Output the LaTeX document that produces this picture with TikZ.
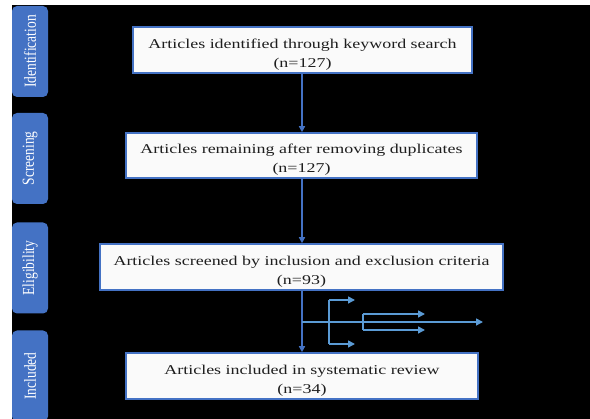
\documentclass[tikz,border=0pt]{standalone}
\usepackage{fontspec}
\setmainfont{Liberation Serif}
\newfontfamily\boxfont[FakeStretch=1.33]{Liberation Serif}
\usetikzlibrary{arrows.meta}
\definecolor{tabblue}{HTML}{4472C4}
\definecolor{lineblue}{HTML}{4472C4}
\definecolor{branchblue}{HTML}{5B9BD5}
\definecolor{boxfill}{HTML}{FAFAFA}
\definecolor{txt}{HTML}{1E1E1E}
\newcommand{\tabword}[1]{\scalebox{1}[1.25]{#1}}
\newcommand{\topstrut}{\rule{0pt}{18.5pt}}
\tikzset{
  tab/.style={draw=none, fill=tabblue, rounded corners=5pt, minimum width=36pt, minimum height=91pt, inner sep=0pt},
  tabtext/.style={text=white, font=\fontsize{13.5}{15}\selectfont, rotate=90, inner sep=0pt},
  stagebox/.style={draw=lineblue, line width=1.6pt, fill=boxfill, text=txt, inner sep=0pt,
    font=\boxfont\fontsize{13.5}{19}\selectfont, align=center},
  mainarrow/.style={draw=lineblue, line width=1.8pt, -{Triangle[length=6pt,width=6pt]}},
  branch/.style={draw=branchblue, line width=1.6pt},
  brancharrow/.style={draw=branchblue, line width=1.6pt, -{Triangle[length=7pt,width=7pt]}}
}
\begin{document}
\begin{tikzpicture}[x=1pt,y=-1pt]
\useasboundingbox (0,0) rectangle (590,419);
\clip (0,0) rectangle (590,419);
\fill[white] (0,0) rectangle (590,419);
\fill[black] (12,5) rectangle (590,425);

% stage tabs
\node[tab] (t1) at (30,51.5) {};
\node[tabtext] (l1) at (t1) {\tabword{Identification}};
\node[tab] (t2) at (30,158.5) {};
\node[tabtext] (l2) at (t2) {\tabword{Screening}};
\node[tab] (t3) at (30,268) {};
\node[tabtext] (l3) at (t3) {\tabword{Eligibility}};
\node[tab] (t4) at (30,376) {};
\node[tabtext] (l4) at (t4) {\tabword{Included}};

% boxes
\node[stagebox, minimum width=339pt, minimum height=46pt] (b1) at (302.5,50)
  {\topstrut Articles identified through keyword search\\(n=127)};
\node[stagebox, minimum width=351pt, minimum height=45pt] (b2) at (301.5,155.5)
  {\topstrut Articles remaining after removing duplicates\\(n=127)};
\node[stagebox, minimum width=403pt, minimum height=46pt] (b3) at (301.5,267)
  {\topstrut Articles screened by inclusion and exclusion criteria\\(n=93)};
\node[stagebox, minimum width=352pt, minimum height=46pt] (b4) at (302,376)
  {\topstrut Articles included in systematic review\\(n=34)};

% main flow
\draw[mainarrow] (b1.south -| 302,0) -- (b2.north -| 302,0);
\draw[mainarrow] (b2.south -| 302,0) -- (b3.north -| 302,0);
\draw[mainarrow] (b3.south -| 302,0) -- (b4.north -| 302,0);

% exclusion branches
\coordinate (j0) at (302,322);
\coordinate (e0) at (483,322);
\coordinate (v1t) at (329,300);
\coordinate (v1b) at (329,344);
\coordinate (e1t) at (355,300);
\coordinate (e1b) at (355,344);
\coordinate (v2t) at (363,314);
\coordinate (v2b) at (363,330);
\coordinate (e2t) at (425,314);
\coordinate (e2b) at (425,330);
\draw[brancharrow] (j0) -- (e0);
\draw[branch] (v1t) -- (v1b);
\draw[brancharrow] (v1t) -- (e1t);
\draw[brancharrow] (v1b) -- (e1b);
\draw[branch] (v2t) -- (v2b);
\draw[brancharrow] (v2t) -- (e2t);
\draw[brancharrow] (v2b) -- (e2b);
\end{tikzpicture}
\end{document}
